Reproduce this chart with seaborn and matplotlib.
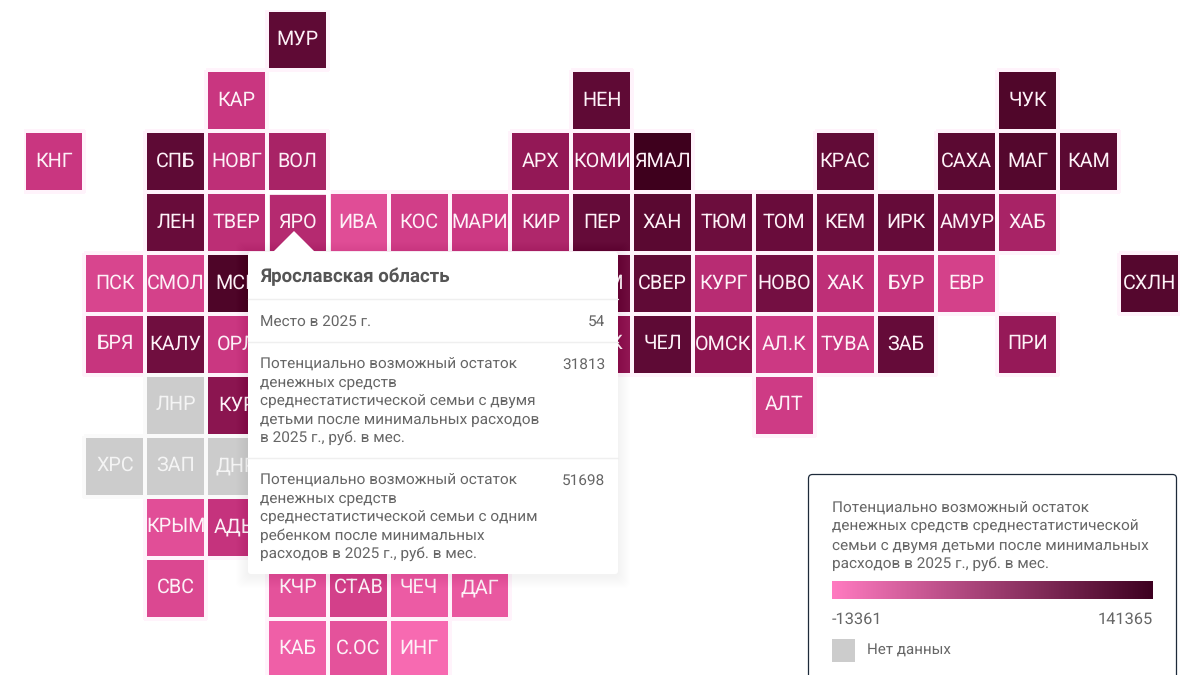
import numpy as np
import pandas as pd
import matplotlib
matplotlib.use("Agg")
import matplotlib.pyplot as plt
import seaborn as sns
from matplotlib.colors import LinearSegmentedColormap, ListedColormap, Normalize, to_rgba
from matplotlib.cm import ScalarMappable
from matplotlib.patches import FancyBboxPatch, Polygon, Rectangle

# tile map data (ЯРО from tooltip)
regions = ["МУР", "КАР", "НЕН", "ЧУК",
           "КНГ", "СПБ", "НОВГ", "ВОЛ", "АРХ", "КОМИ", "ЯМАЛ", "КРАС", "САХА", "МАГ", "КАМ",
           "ЛЕН", "ТВЕР", "ЯРО", "ИВА", "КОС", "МАРИ", "КИР", "ПЕР", "ХАН", "ТЮМ", "ТОМ", "КЕМ", "ИРК", "АМУР", "ХАБ",
           "ПСК", "СМОЛ", "МСК", "УДМ", "СВЕР", "КУРГ", "НОВО", "ХАК", "БУР", "ЕВР", "СХЛН",
           "БРЯ", "КАЛУ", "ОРЛ", "БШК", "ЧЕЛ", "ОМСК", "АЛ.К", "ТУВА", "ЗАБ", "ПРИ",
           "ЛНР", "КУР", "АЛТ",
           "ХРС", "ЗАП", "ДНР",
           "КРЫМ", "АДЫ",
           "СВС", "КЧР", "СТАВ", "ЧЕЧ", "ДАГ",
           "КАБ", "С.ОС", "ИНГ"]
grid_col = [4, 3, 9, 16,
            0, 2, 3, 4, 8, 9, 10, 13, 15, 16, 17,
            2, 3, 4, 5, 6, 7, 8, 9, 10, 11, 12, 13, 14, 15, 16,
            1, 2, 3, 9, 10, 11, 12, 13, 14, 15, 18,
            1, 2, 3, 9, 10, 11, 12, 13, 14, 16,
            2, 3, 12,
            1, 2, 3,
            2, 3,
            2, 4, 5, 6, 7,
            4, 5, 6]
grid_row = [0, 1, 1, 1,
            2, 2, 2, 2, 2, 2, 2, 2, 2, 2, 2,
            3, 3, 3, 3, 3, 3, 3, 3, 3, 3, 3, 3, 3, 3, 3,
            4, 4, 4, 4, 4, 4, 4, 4, 4, 4, 4,
            5, 5, 5, 5, 5, 5, 5, 5, 5, 5,
            6, 6, 6,
            7, 7, 7,
            8, 8,
            9, 9, 9, 9, 9,
            10, 10, 10]
values = [95000, 20500, 95000, 115000,
          21000, 96000, 27000, 40000, 54000, 58000, 140000, 92000, 100000, 110000, 100000,
          88000, 28000, 31813, 7000, 16000, 19000, 36000, 90000, 102000, 85000, 87000, 85000, 90000, 72000, 40000,
          12000, 14000, 118000, 82000, 94000, 30000, 78000, 27000, 24000, 14000, 108000,
          22000, 82000, 20000, 55000, 96000, 58000, 19000, 22000, 90000, 52000,
          np.nan, 60000, 18000,
          np.nan, np.nan, np.nan,
          6000, 23000,
          10000, 4000, 15000, -1000, 1000,
          -3000, 4000, -8000]

scale_min = -13361
scale_max = 141365

legend_title = ["Потенциально возможный остаток",
                "денежных средств среднестатистической",
                "семьи с двумя детьми после минимальных",
                "расходов в 2025 г., руб. в мес."]
tip_title = "Ярославская область"
tip_rank_label = "Место в 2025 г."
tip_rank = "54"
tip_two_kids = ["Потенциально возможный остаток",
                "денежных средств",
                "среднестатистической семьи с двумя",
                "детьми после минимальных расходов",
                "в 2025 г., руб. в мес."]
tip_two_kids_value = "31813"
tip_one_kid = ["Потенциально возможный остаток",
               "денежных средств",
               "среднестатистической семьи с одним",
               "ребенком после минимальных",
               "расходов в 2025 г., руб. в мес."]
tip_one_kid_value = "51698"

TEXT_GREY = "#666666"
PX = 0.72  # font px to pt at dpi 100
BODY = 15.45 * PX


def trim_edges(mesh, grid, color):
    # masked cells still get an edge from pcolormesh, hide those
    ok = grid.notna().to_numpy().ravel()
    rgba = np.zeros((ok.size, 4))
    rgba[ok] = to_rgba(color)
    mesh.set_edgecolor(rgba)


sns.set_theme(style="white")
plt.rcParams["font.family"] = ["Roboto", "DejaVu Sans"]
plt.rcParams["text.hinting"] = "no_hinting"

df = pd.DataFrame({"region": regions, "col": grid_col, "row": grid_row, "value": values})
all_rows = range(11)
all_cols = range(19)
val_grid = df.pivot(index="row", columns="col", values="value").reindex(index=all_rows, columns=all_cols)
lab_grid = df.pivot(index="row", columns="col", values="region").reindex(index=all_rows, columns=all_cols).fillna("")
nodata = df[df["value"].isna()].assign(flag=0).pivot(index="row", columns="col", values="flag").reindex(index=all_rows, columns=all_cols)

# tiles are more saturated than the legend bar
anchors = [(0.0, "#ff73ba"), (0.12, "#e24f98"), (0.22, "#c93680"), (0.29, "#b52a70"),
           (0.45, "#901653"), (0.7, "#5f0a35"), (1.0, "#3d001c")]
tile_cmap = LinearSegmentedColormap.from_list("tiles", anchors)
bar_cmap = LinearSegmentedColormap.from_list("bar", ["#ff7ac0", "#3d0020"])

fig = plt.figure(figsize=(12, 6.75), dpi=100, facecolor="white")

# map axes, one cell = 60.85 x 60.9 px
x0, y0 = 23.6, 9.6
w, h = 60.85 * 19, 60.9 * 11
ax = fig.add_axes([x0 / 1200, 1 - (y0 + h) / 675, w / 1200, h / 675])
sns.heatmap(val_grid, ax=ax, cmap=tile_cmap, vmin=scale_min, vmax=scale_max, cbar=False,
            annot=lab_grid, fmt="", annot_kws={"fontsize": 19.8 * PX, "color": "#fdf1f7"},
            linewidths=1.7, linecolor="#fff3fb", xticklabels=False, yticklabels=False)
trim_edges(ax.collections[0], val_grid, "#fff3fb")
sns.heatmap(nodata, ax=ax, cmap=ListedColormap(["#cccccc"]), cbar=False,
            annot=lab_grid, fmt="", annot_kws={"fontsize": 19.8 * PX, "color": "#f4f4f4"},
            linewidths=1.7, linecolor="#fafafa", xticklabels=False, yticklabels=False)
trim_edges(ax.collections[1], nodata, "#fafafa")
for t in ax.texts:
    t.set_y(t.get_position()[1] - 0.01)
ax.add_patch(Rectangle((4, 3), 1, 1, fill=False, ec="white", lw=3.4, zorder=5))
ax.axis("off")

# overlay in pixel coords for tooltip and legend
over = fig.add_axes([0, 0, 1, 1], zorder=10)
over.set_xlim(0, 1200)
over.set_ylim(675, 0)
over.axis("off")
over.patch.set_alpha(0)

for grow in range(12, 0, -1):
    over.add_patch(FancyBboxPatch((248 - grow, 252 - grow + 2), 370 + 2 * grow, 322 + 2 * grow,
                                  boxstyle="round,pad=0,rounding_size=6", fc="black", ec="none", alpha=0.004))
over.add_patch(Polygon([(272, 253), (294, 231), (316, 253)], fc="white", ec="none"))
over.add_patch(FancyBboxPatch((248, 252), 370, 322, boxstyle="round,pad=0,rounding_size=3", fc="white", ec="none"))
for yy in [299, 342, 458]:
    over.plot([248, 618], [yy, yy], color="#efefef", lw=1)

over.text(260, 277, tip_title, fontsize=18.6 * PX, fontweight="bold", color="#555555", va="center")
over.text(260, 322, tip_rank_label, fontsize=BODY, color=TEXT_GREY, va="center")
over.text(605, 322, tip_rank, fontsize=BODY, color=TEXT_GREY, va="center", ha="right")
for line, yy in zip(tip_two_kids, [365, 383, 402, 420, 438]):
    over.text(260, yy, line, fontsize=BODY, color=TEXT_GREY, va="center")
over.text(605, 365, tip_two_kids_value, fontsize=BODY, color=TEXT_GREY, va="center", ha="right")
for line, yy in zip(tip_one_kid, [481, 499, 518, 536, 554]):
    over.text(260, yy, line, fontsize=BODY, color=TEXT_GREY, va="center")
over.text(605, 481, tip_one_kid_value, fontsize=BODY, color=TEXT_GREY, va="center", ha="right")

# legend box runs off the bottom of the frame
over.add_patch(FancyBboxPatch((808.5, 474.5), 368, 240, boxstyle="round,pad=0,rounding_size=4",
                              fc="white", ec="#1d2a3a", lw=0.9))
for line, yy in zip(legend_title, [509, 527, 546, 564]):
    over.text(832, yy, line, fontsize=BODY, color=TEXT_GREY, va="center")
over.text(832, 619, str(scale_min), fontsize=16.4 * PX, color=TEXT_GREY, va="center")
over.text(1153, 619, str(scale_max), fontsize=16.4 * PX, color=TEXT_GREY, va="center", ha="right")
over.add_patch(Rectangle((832, 639), 23, 23, fc="#cccccc", ec="none"))
over.text(867, 651, "Нет данных", fontsize=15.1 * PX, color=TEXT_GREY, va="center")

cax = fig.add_axes([832 / 1200, 1 - 599 / 675, 321 / 1200, 18 / 675], zorder=11)
cb = fig.colorbar(ScalarMappable(norm=Normalize(scale_min, scale_max), cmap=bar_cmap), cax=cax, orientation="horizontal")
cb.outline.set_visible(False)
cb.set_ticks([])

fig.savefig("out.png", dpi=100)
plt.close(fig)
